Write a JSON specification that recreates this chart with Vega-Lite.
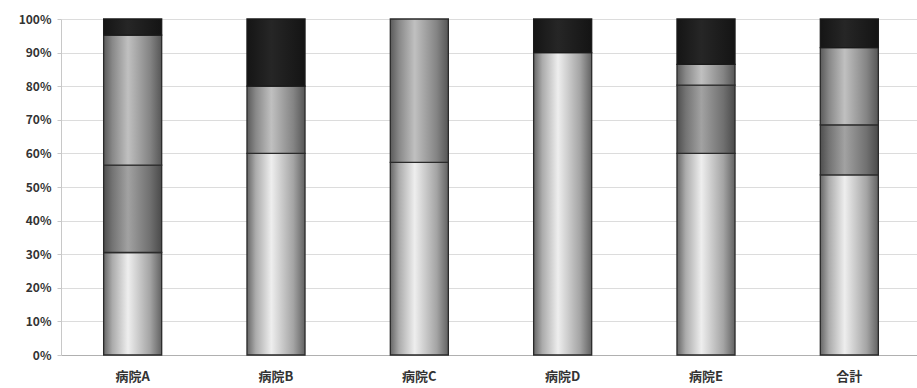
{
  "$schema": "https://vega.github.io/schema/vega-lite/v6.json",
  "autosize": {"type": "none"},
  "padding": {"left": 61, "top": 19, "right": 0, "bottom": 33},
  "width": 860,
  "height": 336,
  "background": "white",
  "config": {
    "view": {"stroke": null},
    "font": "Noto Sans CJK JP"
  },
  "data": {
    "values": [
      {"hospital": "病院A", "series": 1, "value": 30.5},
      {"hospital": "病院A", "series": 2, "value": 26.0},
      {"hospital": "病院A", "series": 3, "value": 38.7},
      {"hospital": "病院A", "series": 4, "value": 4.8},
      {"hospital": "病院B", "series": 1, "value": 60.0},
      {"hospital": "病院B", "series": 3, "value": 20.0},
      {"hospital": "病院B", "series": 4, "value": 20.0},
      {"hospital": "病院C", "series": 1, "value": 57.3},
      {"hospital": "病院C", "series": 3, "value": 42.7},
      {"hospital": "病院D", "series": 1, "value": 90.0},
      {"hospital": "病院D", "series": 4, "value": 10.0},
      {"hospital": "病院E", "series": 1, "value": 60.0},
      {"hospital": "病院E", "series": 2, "value": 20.3},
      {"hospital": "病院E", "series": 3, "value": 6.2},
      {"hospital": "病院E", "series": 4, "value": 13.5},
      {"hospital": "合計", "series": 1, "value": 53.6},
      {"hospital": "合計", "series": 2, "value": 14.9},
      {"hospital": "合計", "series": 3, "value": 23.0},
      {"hospital": "合計", "series": 4, "value": 8.5}
    ]
  },
  "transform": [
    {"stack": "value", "groupby": ["hospital"], "sort": [{"field": "series", "order": "ascending"}], "as": ["v0", "v1"]}
  ],
  "encoding": {
    "x": {
      "field": "hospital", "type": "nominal", "sort": null,
      "scale": {"paddingInner": 0.595, "paddingOuter": 0.2975},
      "axis": {
        "title": null, "labelAngle": 0, "labelFontSize": 13, "labelColor": "#333",
        "labelPadding": 15, "ticks": false, "domainColor": "#b0b0b0", "labelFontWeight": "bold"
      }
    },
    "y": {
      "field": "v0", "type": "quantitative",
      "scale": {"domain": [0, 100], "nice": false},
      "axis": {
        "title": null, "values": [0,10,20,30,40,50,60,70,80,90,100],
        "labelExpr": "datum.value + '%'", "labelFontSize": 12, "labelColor": "#333",
        "labelFontWeight": "bold", "labelPadding": 6,
        "gridColor": "#dcdcdc", "domainColor": "#c8c8c8", "tickColor": "#c8c8c8", "tickSize": 4
      }
    },
    "y2": {"field": "v1"}
  },
  "layer": [
    {
      "transform": [{"filter": "datum.series == 1"}],
      "mark": {"type": "bar", "stroke": "#2a2a2a", "strokeWidth": 1.3,
        "color": {"gradient": "linear", "x1": 0, "y1": 0, "x2": 1, "y2": 0,
          "stops": [{"offset": 0, "color": "#666666"}, {"offset": 0.15, "color": "#ababab"}, {"offset": 0.42, "color": "#eeeeee"}, {"offset": 0.8, "color": "#a4a4a4"}, {"offset": 1, "color": "#626262"}]}}
    },
    {
      "transform": [{"filter": "datum.series == 2"}],
      "mark": {"type": "bar", "stroke": "#2a2a2a", "strokeWidth": 1.3,
        "color": {"gradient": "linear", "x1": 0, "y1": 0, "x2": 1, "y2": 0,
          "stops": [{"offset": 0, "color": "#4e4e4e"}, {"offset": 0.15, "color": "#737373"}, {"offset": 0.42, "color": "#a2a2a2"}, {"offset": 0.8, "color": "#707070"}, {"offset": 1, "color": "#4a4a4a"}]}}
    },
    {
      "transform": [{"filter": "datum.series == 3"}],
      "mark": {"type": "bar", "stroke": "#2a2a2a", "strokeWidth": 1.3,
        "color": {"gradient": "linear", "x1": 0, "y1": 0, "x2": 1, "y2": 0,
          "stops": [{"offset": 0, "color": "#5a5a5a"}, {"offset": 0.15, "color": "#888888"}, {"offset": 0.42, "color": "#c0c0c0"}, {"offset": 0.8, "color": "#848484"}, {"offset": 1, "color": "#565656"}]}}
    },
    {
      "transform": [{"filter": "datum.series == 4"}],
      "mark": {"type": "bar", "stroke": "#1a1a1a", "strokeWidth": 1.3,
        "color": {"gradient": "linear", "x1": 0, "y1": 0, "x2": 1, "y2": 0,
          "stops": [{"offset": 0, "color": "#151515"}, {"offset": 0.42, "color": "#262626"}, {"offset": 1, "color": "#141414"}]}}
    }
  ]
}
